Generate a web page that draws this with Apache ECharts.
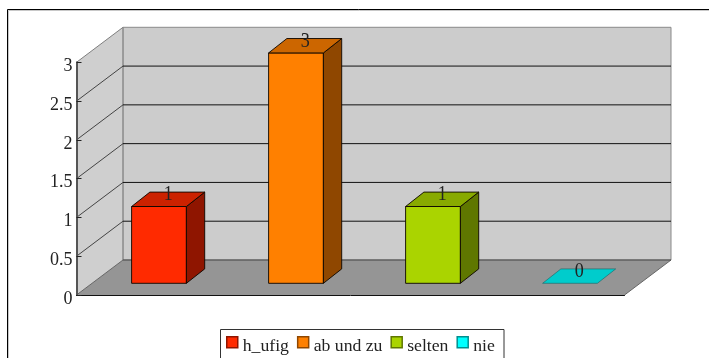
<!DOCTYPE html>
<html>
<head>
<meta charset="utf-8">
<style>html,body{margin:0;padding:0;background:#fff;overflow:hidden}#c{width:709px;height:358px}</style>
<script src="https://cdn.jsdelivr.net/npm/echarts@6/dist/echarts.min.js"></script>
</head>
<body>
<div id="c"></div>
<script>
var categories = ['h_ufig', 'ab und zu', 'selten', 'nie'];
var values = [1, 3, 1, 0];
var yTicks = [0, 0.5, 1, 1.5, 2, 2.5, 3];
var frontColors = ['#ff2a00', '#ff8000', '#aad400', '#00ffff'];
var topColors = ['#cc2200', '#cc6600', '#88aa00', '#00cccc'];
var sideColors = ['#8f1500', '#8f4700', '#5f7700', '#008f8f'];
var legendBorders = ['#8f1500', '#8f4700', '#5f7700', '#008f8f'];

var FONT = '"Liberation Serif","Times New Roman",serif';
var WALL = {dx: 46.5, dy: -35};
var BAR_OFFSET = {dx: 14, dy: -11.7};
var BAR_DEPTH = {dx: 18.3, dy: -14.4};
var BAR_PERSPECTIVE = 0.99;

function wallItem(params, api) {
  var v = api.value(0);
  var p = api.coord([0, v]);
  var x0 = p[0] - api.size([1, 0])[0] / 2;
  var y = p[1];
  var x1 = x0 + api.size([1, 0])[0] * categories.length;
  var children = [];
  var top = yTicks[yTicks.length - 1];
  if (v === 0) {
    var yTop = api.coord([0, top])[1];
    var bx = x0 + WALL.dx, bx2 = x1 + WALL.dx, by = y + WALL.dy, byTop = yTop + WALL.dy;
    children.push({type: 'polygon', shape: {points: [[x0, y], [bx, by], [bx, byTop], [x0, yTop]]},
      style: {fill: '#cfcfcf', stroke: 'none'}});
    children.push({type: 'polygon', shape: {points: [[bx, by], [bx2, by], [bx2, byTop], [bx, byTop]]},
      style: {fill: '#cccccc', stroke: '#8a8a8a', lineWidth: 1}});
    children.push({type: 'polygon', shape: {points: [[x0, y], [x1, y], [bx2, by], [bx, by]]},
      style: {fill: '#959595', stroke: 'none'}});
    children.push({type: 'line', shape: {x1: x0, y1: yTop, x2: bx, y2: byTop}, style: {stroke: '#808080', lineWidth: 1}});
    children.push({type: 'line', shape: {x1: bx, y1: by, x2: bx, y2: byTop}, style: {stroke: '#8a8a8a', lineWidth: 1}});
    children.push({type: 'line', shape: {x1: x1, y1: y, x2: bx2, y2: by}, style: {stroke: '#666', lineWidth: 1}});
    children.push({type: 'line', shape: {x1: x0, y1: y, x2: bx, y2: by}, style: {stroke: '#666', lineWidth: 1}});
    children.push({type: 'line', shape: {x1: bx, y1: by, x2: bx2, y2: by}, style: {stroke: '#444', lineWidth: 1}});
  } else if (v !== top) {
    var bx3 = x0 + WALL.dx, bx4 = x1 + WALL.dx, by2 = y + WALL.dy;
    children.push({type: 'line', shape: {x1: x0, y1: y, x2: bx3, y2: by2}, style: {stroke: '#444', lineWidth: 1}});
    children.push({type: 'line', shape: {x1: bx3, y1: by2, x2: bx4, y2: by2}, style: {stroke: '#111', lineWidth: 1}});
  }
  return {type: 'group', children: children};
}

function barItem(index) {
  return function (params, api) {
    var cat = api.value(0);
    var val = api.value(1);
    var band = api.size([1, 0])[0];
    var w = band * 0.4;
    var base = api.coord([cat, 0]);
    var head = api.coord([cat, val]);
    var xl = base[0] - w / 2 + BAR_OFFSET.dx;
    var xr = xl + w;
    var yb = base[1] + BAR_OFFSET.dy;
    var yt = yb + (head[1] - base[1]) * BAR_PERSPECTIVE;
    var dx = BAR_DEPTH.dx, dy = BAR_DEPTH.dy;
    var edge = {stroke: 'rgba(15,8,0,0.92)', lineWidth: 1, lineJoin: 'round'};
    var kids = [];
    if (val > 0) {
      kids.push({type: 'polygon', shape: {points: [[xl, yb], [xr, yb], [xr, yt], [xl, yt]]},
        style: Object.assign({fill: frontColors[index]}, edge)});
      kids.push({type: 'polygon', shape: {points: [[xr, yb], [xr + dx, yb + dy], [xr + dx, yt + dy], [xr, yt]]},
        style: Object.assign({fill: sideColors[index]}, edge)});
    }
    kids.push({type: 'polygon', shape: {points: [[xl, yt], [xr, yt], [xr + dx, yt + dy], [xl + dx, yt + dy]]},
      style: val > 0 ? Object.assign({fill: topColors[index]}, edge) : {fill: topColors[index], stroke: '#1f6f6f', lineWidth: 0.7}});
    kids.push({type: 'text', x: xl + w / 2 + dx / 2, y: yt + dy / 2 + 6, scaleX: 0.86, style: {
      text: String(val), align: 'center', verticalAlign: 'bottom',
      font: '21px ' + FONT, fill: '#222'
    }});
    return {type: 'group', children: kids};
  };
}

var series = [{
  type: 'custom', name: 'walls', z: 1, silent: true, clip: false,
  data: yTicks.map(function (t) { return [t]; }),
  encode: {y: 0},
  renderItem: wallItem
}];
categories.forEach(function (name, i) {
  series.push({
    type: 'custom', name: name, z: 4, silent: true, clip: false,
    itemStyle: {color: frontColors[i]},
    data: [[i, values[i]]],
    encode: {x: 0, y: 1},
    renderItem: barItem(i)
  });
});

var chart = echarts.init(document.getElementById('c'), null, {renderer: 'canvas'});
chart.setOption({
  animation: false,
  backgroundColor: '#fff',
  grid: {left: 76.5, top: 62.3, width: 548, height: 232.7},
  xAxis: {
    type: 'category', data: categories, z: 3,
    axisLine: {show: true, onZero: false, lineStyle: {color: '#111', width: 1}},
    axisTick: {show: false}, axisLabel: {show: false}, splitLine: {show: false}
  },
  yAxis: {
    type: 'value', min: 0, max: 3, interval: 0.5, z: 3,
    axisLine: {show: true, lineStyle: {color: '#555', width: 2}},
    axisTick: {show: true, inside: true, length: 5, lineStyle: {color: '#222', width: 1}},
    axisLabel: {color: '#222', fontFamily: FONT, fontSize: 18, margin: 4, verticalAlign: 'top', lineHeight: 8},
    splitLine: {show: false}
  },
  legend: {
    left: 221, top: 334, padding: [2, 5], itemGap: 8, itemWidth: 11, itemHeight: 11, z: 6,
    icon: 'rect',
    formatter: '{a|{name}}',
    textStyle: {fontFamily: FONT, fontSize: 17.7, color: '#222',
      rich: {a: {fontFamily: FONT, fontSize: 17.7, color: '#222', padding: [9, 0, 0, 0]}}},
    data: categories.map(function (name, i) {
      return {name: name, icon: 'rect',
        itemStyle: {color: frontColors[i], borderColor: legendBorders[i], borderWidth: 1.5}};
    }),
    selectedMode: false
  },
  graphic: [
    {type: 'rect', silent: true, z: 5, shape: {x: 8.5, y: 10.5, width: 720, height: 360},
      style: {fill: 'none', stroke: '#c8c8c8', lineWidth: 1}},
    {type: 'rect', silent: true, z: 5, shape: {x: 7.5, y: 9.5, width: 720, height: 360},
      style: {fill: 'none', stroke: '#000', lineWidth: 1}},
    {type: 'rect', silent: true, z: 5, shape: {x: 220.5, y: 329.5, width: 283.5, height: 50},
      style: {fill: '#fff', stroke: '#333', lineWidth: 1}}
  ],
  series: series
});
</script>
</body>
</html>
